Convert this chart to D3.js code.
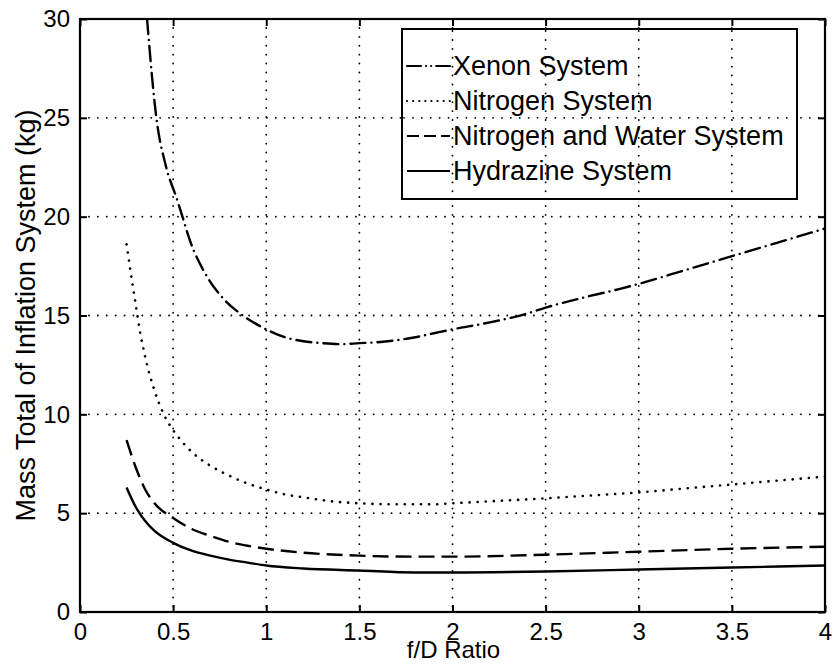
<!DOCTYPE html>
<html>
<head>
<meta charset="utf-8">
<script src="https://cdn.jsdelivr.net/npm/d3@7"></script>
<style>
  html, body { margin: 0; padding: 0; background: #fff; }
  svg { display: block; }
  text { font-family: "Liberation Sans", Arial, Helvetica, sans-serif; fill: #000; }
</style>
</head>
<body>
<svg id="chart" width="834" height="664"></svg>
<script>
// ---- data ----
const xenonX = [0.36, 0.41, 0.46, 0.52, 0.55, 0.59, 0.68, 0.77, 0.875, 1.0, 1.1, 1.2, 1.3, 1.4, 1.5, 1.6, 1.7, 1.8, 1.9, 2.0, 2.2, 2.4, 2.5, 2.7, 2.9, 3.0, 3.25, 3.5, 3.75, 4.0];
const xenonY = [30, 25, 22.6, 20.9, 20.0, 18.8, 17.0, 15.85, 15.0, 14.3, 13.9, 13.7, 13.6, 13.55, 13.6, 13.65, 13.75, 13.9, 14.1, 14.3, 14.65, 15.1, 15.4, 15.9, 16.35, 16.6, 17.3, 18.0, 18.7, 19.4];

const nitrogenX = [0.25, 0.28, 0.3, 0.32, 0.35, 0.4, 0.45, 0.5, 0.55, 0.6, 0.7, 0.8, 0.9, 1.0, 1.1, 1.2, 1.35, 1.5, 1.7, 1.9, 2.0, 2.2, 2.5, 2.75, 3.0, 3.25, 3.5, 3.75, 4.0];
const nitrogenY = [18.6, 16.7, 15.5, 14.3, 12.9, 11.2, 10.0, 9.2, 8.6, 8.1, 7.4, 6.9, 6.5, 6.2, 5.95, 5.8, 5.6, 5.5, 5.45, 5.45, 5.5, 5.6, 5.75, 5.9, 6.05, 6.25, 6.45, 6.65, 6.85];

const waterX = [0.25, 0.3, 0.35, 0.4, 0.5, 0.6, 0.7, 0.8, 0.9, 1.0, 1.2, 1.5, 1.8, 2.0, 2.5, 3.0, 3.5, 4.0];
const waterY = [8.7, 7.3, 6.2, 5.5, 4.75, 4.2, 3.85, 3.55, 3.35, 3.2, 3.0, 2.85, 2.8, 2.8, 2.9, 3.05, 3.2, 3.3];

const hydrazineX = [0.25, 0.3, 0.35, 0.4, 0.5, 0.6, 0.7, 0.8, 0.9, 1.0, 1.2, 1.5, 1.8, 2.0, 2.5, 3.0, 3.5, 4.0];
const hydrazineY = [6.3, 5.3, 4.6, 4.1, 3.5, 3.1, 2.85, 2.65, 2.5, 2.35, 2.2, 2.1, 2.0, 2.0, 2.05, 2.15, 2.25, 2.35];

const seriesNames = ["Xenon System", "Nitrogen System", "Nitrogen and Water System", "Hydrazine System"];
const xTicks = [0, 0.5, 1, 1.5, 2, 2.5, 3, 3.5, 4];
const yTicks = [0, 5, 10, 15, 20, 25, 30];
const xTickLabels = ["0", "0.5", "1", "1.5", "2", "2.5", "3", "3.5", "4"];
const yTickLabels = ["0", "5", "10", "15", "20", "25", "30"];
const xTitle = "f/D Ratio";
const yTitle = "Mass Total of Inflation System (kg)";

// ---- layout ----
const L = 80, R = 825, T = 19, B = 612;
const svg = d3.select("#chart");
const x = d3.scaleLinear().domain([0, 4]).range([L, R]);
const y = d3.scaleLinear().domain([0, 30]).range([B, T]);

const gridDash = "0.1,8.8";
// grid (dotted)
const grid = svg.append("g");
grid.selectAll("line.vg").data(xTicks.slice(1, -1)).enter().append("line")
  .attr("x1", d => x(d)).attr("x2", d => x(d)).attr("y1", T).attr("y2", B)
  .attr("stroke", "#000").attr("stroke-width", 1.8)
  .attr("stroke-dasharray", gridDash).attr("stroke-linecap", "round");
grid.selectAll("line.hg").data(yTicks.slice(1, -1)).enter().append("line")
  .attr("x1", L).attr("x2", R).attr("y1", d => y(d)).attr("y2", d => y(d))
  .attr("stroke", "#000").attr("stroke-width", 1.8)
  .attr("stroke-dasharray", gridDash).attr("stroke-linecap", "round");

// clip
svg.append("clipPath").attr("id", "clip").append("rect")
  .attr("x", L).attr("y", T - 1).attr("width", R - L).attr("height", B - T + 1);

const styles = [
  { dash: "15,6,0.1,6", cap: "round", w: 2.4 },
  { dash: "0.1,8", cap: "round", w: 2.6 },
  { dash: "16,7", cap: "butt", w: 2.4 },
  { dash: null, cap: "butt", w: 2.4 }
];
const data = [
  xenonX.map((v, i) => [v, xenonY[i]]),
  nitrogenX.map((v, i) => [v, nitrogenY[i]]),
  waterX.map((v, i) => [v, waterY[i]]),
  hydrazineX.map((v, i) => [v, hydrazineY[i]])
];
const line = d3.line().x(d => x(d[0])).y(d => y(d[1])).curve(d3.curveMonotoneX);
const lines = svg.append("g").attr("clip-path", "url(#clip)");
data.forEach((pts, i) => {
  lines.append("path").attr("d", line(pts))
    .attr("fill", "none").attr("stroke", "#000")
    .attr("stroke-width", styles[i].w)
    .attr("stroke-linecap", styles[i].cap)
    .attr("stroke-dasharray", styles[i].dash);
});

// axes with inward ticks on all four sides
const tickLen = 7;
const axB = d3.axisBottom(x).tickValues(xTicks).tickSizeInner(-tickLen).tickSizeOuter(0).tickPadding(11)
  .tickFormat((d, i) => xTickLabels[i]);
const axL = d3.axisLeft(y).tickValues(yTicks).tickSizeInner(-tickLen).tickSizeOuter(0).tickPadding(10)
  .tickFormat((d, i) => yTickLabels[i]);
const axT = d3.axisTop(x).tickValues(xTicks).tickSizeInner(-tickLen).tickSizeOuter(0).tickFormat("");
const axR = d3.axisRight(y).tickValues(yTicks).tickSizeInner(-tickLen).tickSizeOuter(0).tickFormat("");

function styleAxis(g) {
  g.select(".domain").remove();
  g.selectAll(".tick line").attr("stroke", "#000").attr("stroke-width", 2);
  g.selectAll("text").style("font-size", "24px").attr("fill", "#000");
}
svg.append("g").attr("transform", `translate(0,${B})`).call(axB).call(styleAxis)
  .selectAll("text").attr("dy", "0.71em");
svg.append("g").attr("transform", `translate(${L},0)`).call(axL).call(styleAxis);
svg.append("g").attr("transform", `translate(0,${T})`).call(axT).call(styleAxis);
svg.append("g").attr("transform", `translate(${R},0)`).call(axR).call(styleAxis);

// frame
svg.append("rect").attr("x", L).attr("y", T).attr("width", R - L).attr("height", B - T)
  .attr("fill", "none").attr("stroke", "#000").attr("stroke-width", 2.2);

// axis titles
svg.append("text").attr("x", (L + R) / 2 + 1).attr("y", 658)
  .attr("text-anchor", "middle").style("font-size", "24px").text(xTitle);
svg.append("text").attr("transform", `translate(35,${(T + B) / 2}) rotate(-90)`)
  .attr("text-anchor", "middle").style("font-size", "27px").text(yTitle);

// legend
const lg = svg.append("g");
lg.append("rect").attr("x", 402).attr("y", 29).attr("width", 395).attr("height", 170)
  .attr("fill", "#fff").attr("stroke", "#000").attr("stroke-width", 2);
// the grid continues through the legend box in the reference
lg.selectAll("line.lvg").data(xTicks.filter(d => x(d) > 402 && x(d) < 797)).enter().append("line")
  .attr("x1", d => x(d)).attr("x2", d => x(d)).attr("y1", 31).attr("y2", 197)
  .attr("stroke", "#000").attr("stroke-width", 1.8)
  .attr("stroke-dasharray", gridDash).attr("stroke-linecap", "round");
lg.selectAll("line.lhg").data(yTicks.filter(d => y(d) > 29 && y(d) < 199)).enter().append("line")
  .attr("x1", 404).attr("x2", 795).attr("y1", d => y(d)).attr("y2", d => y(d))
  .attr("stroke", "#000").attr("stroke-width", 1.8)
  .attr("stroke-dasharray", gridDash).attr("stroke-linecap", "round");

const legendDash = ["14,5,0.1,5,0.1,5", "0.1,6", "12,5", null];
seriesNames.forEach((name, i) => {
  const by = 75 + i * 35;
  lg.append("line").attr("x1", 407).attr("x2", 450).attr("y1", by - 9).attr("y2", by - 9)
    .attr("stroke", "#000").attr("stroke-width", 2.2)
    .attr("stroke-linecap", styles[i].cap)
    .attr("stroke-dasharray", legendDash[i]);
  lg.append("text").attr("x", 453).attr("y", by).style("font-size", "27px").text(name);
});
</script>
</body>
</html>
